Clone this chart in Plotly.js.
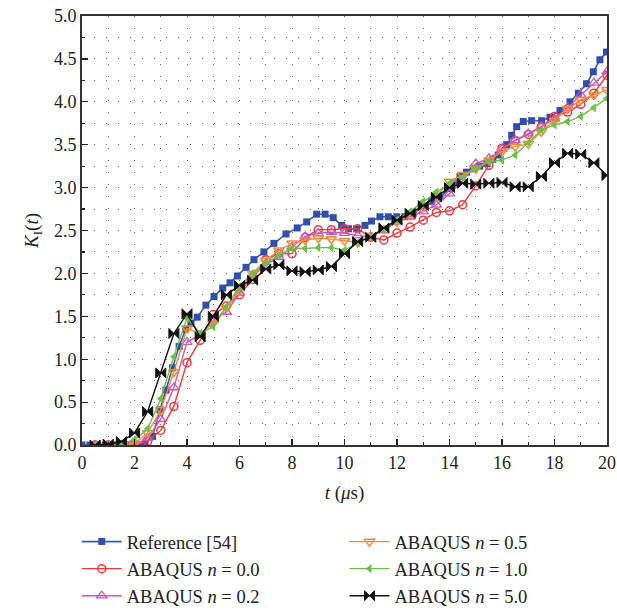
<!DOCTYPE html>
<html>
<head>
<meta charset="utf-8">
<script src="https://cdn.plot.ly/plotly-3.0.1.min.js"></script>
<style>html,body{margin:0;padding:0;background:#fff;}#chart{width:617px;height:611px;}</style>
</head>
<body>
<div id="chart"></div>
<script>
// Reference [54]
const refT = [0, 0.3, 0.6, 0.9, 1.2, 1.5, 1.8, 2.1, 2.4, 2.69, 2.97, 3.2, 3.45, 3.7, 3.95, 4.15, 4.39, 4.72, 5.03, 5.36, 5.64, 5.92, 6.25, 6.55, 6.93, 7.31, 7.77, 8.2, 8.56, 8.94, 9.26, 9.57, 9.89, 10.15, 10.46, 10.78, 11.03, 11.35, 11.67, 11.99, 12.3, 12.62, 13.0, 13.32, 13.64, 14.02, 14.2, 14.4, 14.65, 14.9, 15.15, 15.42, 15.65, 15.86, 16.18, 16.37, 16.56, 16.81, 17.13, 17.51, 17.83, 18.21, 18.59, 18.91, 19.22, 19.48, 19.73, 19.98];
const refK = [0, 0, 0, 0, 0, 0, 0, 0, 0.02, 0.1, 0.41, 0.64, 0.9, 1.15, 1.35, 1.42, 1.49, 1.63, 1.73, 1.83, 1.89, 1.97, 2.07, 2.16, 2.25, 2.35, 2.46, 2.53, 2.6, 2.69, 2.69, 2.65, 2.56, 2.52, 2.52, 2.56, 2.61, 2.66, 2.66, 2.66, 2.66, 2.7, 2.78, 2.84, 2.89, 2.99, 3.06, 3.13, 3.18, 3.22, 3.25, 3.28, 3.33, 3.38, 3.5, 3.61, 3.71, 3.77, 3.78, 3.78, 3.82, 3.9, 4.0, 4.1, 4.21, 4.35, 4.49, 4.58];

// ABAQUS time points
const abqT = [0.5, 1, 1.5, 2, 2.5, 3, 3.5, 4, 4.5, 5, 5.5, 6, 6.5, 7, 7.5, 8, 8.5, 9, 9.5, 10, 10.5, 11, 11.5, 12, 12.5, 13, 13.5, 14, 14.5, 15, 15.5, 16, 16.5, 17, 17.5, 18, 18.5, 19, 19.5, 20];
const n00 = [0, 0, 0, 0, 0.04, 0.17, 0.45, 0.96, 1.22, 1.52, 1.62, 1.75, 1.93, 2.16, 2.23, 2.23, 2.42, 2.51, 2.51, 2.52, 2.52, 2.42, 2.39, 2.47, 2.54, 2.62, 2.71, 2.73, 2.8, 3.02, 3.26, 3.46, 3.55, 3.62, 3.71, 3.83, 3.88, 3.97, 4.1, 4.31];
const n02 = [0, 0, 0, 0, 0.08, 0.3, 0.67, 1.2, 1.28, 1.45, 1.55, 1.77, 1.98, 2.1, 2.19, 2.31, 2.43, 2.47, 2.48, 2.47, 2.44, 2.43, 2.5, 2.6, 2.66, 2.72, 2.8, 2.93, 3.08, 3.28, 3.34, 3.45, 3.55, 3.63, 3.71, 3.8, 3.93, 4.08, 4.22, 4.35];
const n05 = [0, 0, 0, 0.02, 0.14, 0.41, 0.85, 1.36, 1.3, 1.42, 1.6, 1.8, 2.0, 2.15, 2.27, 2.35, 2.39, 2.41, 2.4, 2.38, 2.36, 2.44, 2.52, 2.6, 2.68, 2.78, 2.9, 3.07, 3.15, 3.22, 3.32, 3.42, 3.48, 3.51, 3.65, 3.78, 3.92, 4.02, 4.08, 4.14];
const n10 = [0, 0, 0.01, 0.06, 0.19, 0.54, 1.03, 1.48, 1.3, 1.38, 1.61, 1.85, 2.0, 2.12, 2.21, 2.29, 2.29, 2.3, 2.3, 2.27, 2.36, 2.43, 2.51, 2.62, 2.72, 2.84, 2.95, 3.05, 3.12, 3.22, 3.3, 3.32, 3.38, 3.52, 3.67, 3.73, 3.77, 3.83, 3.93, 4.04];
const n50 = [0, 0.01, 0.04, 0.14, 0.39, 0.84, 1.3, 1.53, 1.26, 1.5, 1.75, 1.86, 1.92, 2.05, 2.1, 2.03, 2.02, 2.04, 2.08, 2.23, 2.37, 2.42, 2.53, 2.62, 2.7, 2.79, 2.89, 3.0, 3.05, 3.04, 3.05, 3.06, 3.01, 3.01, 3.13, 3.29, 3.4, 3.39, 3.29, 3.14];

const names = ['Reference [54]', 'ABAQUS <i>n</i> = 0.0', 'ABAQUS <i>n</i> = 0.2', 'ABAQUS <i>n</i> = 0.5', 'ABAQUS <i>n</i> = 1.0', 'ABAQUS <i>n</i> = 5.0'];
const xTickVals = [0, 2, 4, 6, 8, 10, 12, 14, 16, 18, 20];
const yTickVals = [0, 0.5, 1, 1.5, 2, 2.5, 3, 3.5, 4, 4.5, 5];

const traces = [
  {x: refT, y: refK, name: names[0], legend: 'legend', mode: 'lines+markers',
   line: {color: '#3A5BAE', width: 1.6}, marker: {symbol: 'square', size: 7, color: '#2F4FA8'}},
  {x: abqT, y: n00, name: names[1], legend: 'legend', mode: 'lines+markers',
   line: {color: '#EE3A3A', width: 1.4}, marker: {symbol: 'circle-open', size: 8, color: '#EE3A3A', line: {width: 1.5}}},
  {x: abqT, y: n02, name: names[2], legend: 'legend', mode: 'lines+markers',
   line: {color: '#C45BB8', width: 1.4}, marker: {symbol: 'triangle-up-open', size: 9, color: '#C45BB8', line: {width: 1.3}}},
  {x: abqT, y: n05, name: names[3], legend: 'legend2', mode: 'lines+markers',
   line: {color: '#F28A3A', width: 1.4}, marker: {symbol: 'triangle-down-open', size: 9, color: '#F28A3A', line: {width: 1.5}}},
  {x: abqT, y: n10, name: names[4], legend: 'legend2', mode: 'lines+markers',
   line: {color: '#6CC04A', width: 1.4}, marker: {symbol: 'triangle-left', size: 8, color: '#6CC04A'}},
  {x: abqT, y: n50, name: names[5], legend: 'legend2', mode: 'lines+markers',
   line: {color: '#111111', width: 1.4}, marker: {symbol: 'bowtie', size: 10, color: '#111111', line: {width: 1, color: '#111111'}}}
];

const fontFam = '"Liberation Serif", "Times New Roman", serif';
const gridDash = '1px,11px';

const layout = {
  width: 617, height: 611,
  margin: {l: 82, r: 10, t: 16, b: 166, autoexpand: false},
  paper_bgcolor: '#fff', plot_bgcolor: '#fff',
  font: {family: fontFam, size: 18, color: '#222'},
  showlegend: true,
  xaxis: {
    range: [0, 20], tickvals: xTickVals, ticktext: xTickVals.map(String),
    ticks: 'inside', ticklen: 6, tickwidth: 1.2, tickcolor: '#222',
    showline: true, linewidth: 2, linecolor: '#333', mirror: true,
    showgrid: true, gridcolor: '#666', gridwidth: 1, griddash: gridDash,
    zeroline: false,
    minor: {dtick: 1, ticks: 'inside', ticklen: 3, tickcolor: '#222', showgrid: true, gridcolor: '#666', griddash: gridDash},
    title: {text: '<i>t</i> (<i>μ</i>s)', font: {size: 19}, standoff: 14},
    tickfont: {size: 18}
  },
  yaxis: {
    range: [0, 5], tickvals: yTickVals, ticktext: yTickVals.map(v => v.toFixed(1)),
    ticks: 'inside', ticklen: 6, tickwidth: 1.2, tickcolor: '#222',
    showline: true, linewidth: 2, linecolor: '#333', mirror: true,
    showgrid: true, gridcolor: '#666', gridwidth: 1, griddash: gridDash,
    zeroline: false,
    minor: {dtick: 0.25, ticks: 'inside', ticklen: 3, tickcolor: '#222', showgrid: true, gridcolor: '#666', griddash: gridDash},
    title: {text: '<i>K</i><sub>I</sub>(<i>t</i>)', font: {size: 19}, standoff: 10},
    tickfont: {size: 18}
  },
  legend: {x: -0.01, xanchor: 'left', y: -0.182, yanchor: 'top', orientation: 'v',
    bgcolor: 'rgba(0,0,0,0)', font: {size: 18.5}, tracegroupgap: 0, itemwidth: 40},
  legend2: {x: 0.5, xanchor: 'left', y: -0.182, yanchor: 'top', orientation: 'v',
    bgcolor: 'rgba(0,0,0,0)', font: {size: 18.5}, tracegroupgap: 0, itemwidth: 40}
};

Plotly.newPlot('chart', traces, layout, {displayModeBar: false, staticPlot: true});
</script>
</body>
</html>
